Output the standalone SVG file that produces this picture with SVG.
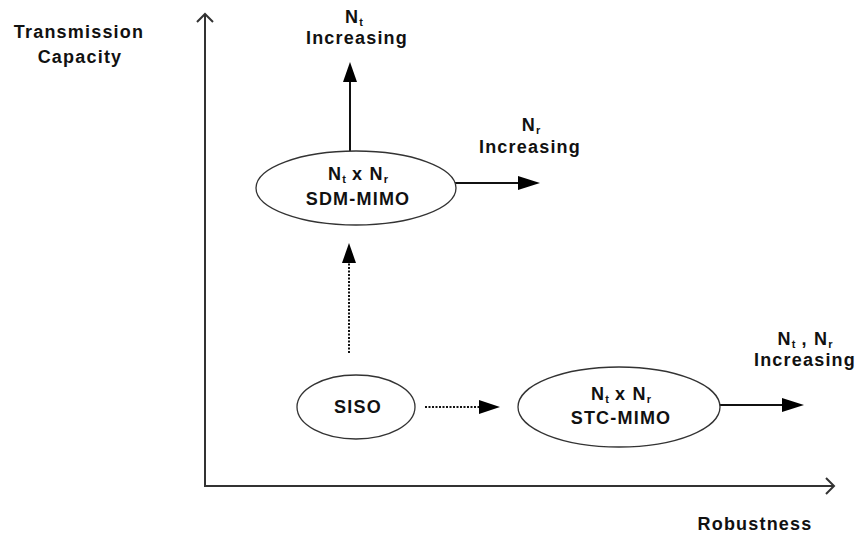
<svg xmlns="http://www.w3.org/2000/svg" width="857" height="536" viewBox="0 0 857 536">
  <style>
    text { font-family: "Liberation Sans", Arial, sans-serif; font-weight: bold; font-size: 18px; letter-spacing: 1.2px; fill: #111; text-anchor: middle; }
    .sub { font-size: 11px; letter-spacing: 0; }
    .node ellipse { fill: #fff; stroke: #333; stroke-width: 1.3; }
    .axis { fill: none; stroke: #333; stroke-width: 2; }
    .solid { stroke: #111; stroke-width: 2; fill: none; }
    .dotted { stroke: #111; stroke-width: 2; fill: none; stroke-dasharray: 2 1.5; }
    .head { fill: #000; }
  </style>

  <!-- axes -->
  <g id="axes">
    <polyline class="axis" points="205,14 205,486 834,486"/>
    <polyline class="axis" points="197,22 205,14 213,22"/>
    <polyline class="axis" points="826,478 834,486 826,494"/>
    <text x="79" y="38">Transmission</text>
    <text x="80" y="63">Capacity</text>
    <text x="755" y="530">Robustness</text>
  </g>

  <!-- connectors -->
  <g id="connectors">
    <line class="solid" x1="350" y1="151" x2="350" y2="80"/>
    <polygon class="head" points="350,62 343,82 357,82"/>
    <line class="solid" x1="455" y1="183" x2="520" y2="183"/>
    <polygon class="head" points="540,183 518,176 518,190"/>
    <line class="dotted" x1="349" y1="353" x2="349" y2="262"/>
    <polygon class="head" points="349,243 342,263 356,263"/>
    <line class="dotted" x1="425" y1="407" x2="482" y2="407"/>
    <polygon class="head" points="500,407 479,400 479,414"/>
    <line class="solid" x1="720" y1="405" x2="784" y2="405"/>
    <polygon class="head" points="804,405 782,398 782,412"/>
  </g>

  <!-- labels beside the arrows -->
  <g id="labels">
    <text x="354" y="23">N<tspan class="sub" dy="3">t</tspan></text>
    <text x="357" y="44">Increasing</text>
    <text x="531" y="131">N<tspan class="sub" dy="3">r</tspan></text>
    <text x="530" y="153">Increasing</text>
    <text x="805" y="345">N<tspan class="sub" dy="3">t</tspan><tspan dy="-3"> , N</tspan><tspan class="sub" dy="3">r</tspan></text>
    <text x="805" y="366">Increasing</text>
  </g>

  <g id="sdm-mimo" class="node">
    <ellipse cx="356" cy="188" rx="100" ry="37"/>
    <text x="358" y="180">N<tspan class="sub" dy="3">t</tspan><tspan dy="-3"> x N</tspan><tspan class="sub" dy="3">r</tspan></text>
    <text x="358" y="205">SDM-MIMO</text>
  </g>

  <g id="siso" class="node">
    <ellipse cx="356" cy="407" rx="59" ry="32"/>
    <text x="358" y="413">SISO</text>
  </g>

  <g id="stc-mimo" class="node">
    <ellipse cx="619" cy="407" rx="101" ry="40"/>
    <text x="621" y="400">N<tspan class="sub" dy="3">t</tspan><tspan dy="-3"> x N</tspan><tspan class="sub" dy="3">r</tspan></text>
    <text x="621" y="424">STC-MIMO</text>
  </g>
</svg>
